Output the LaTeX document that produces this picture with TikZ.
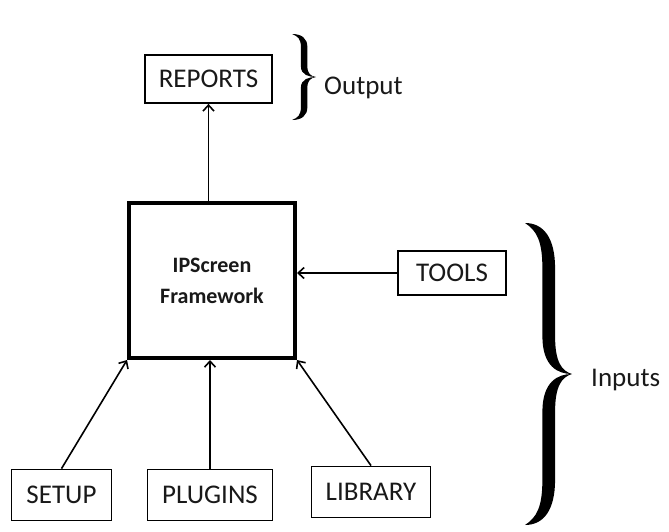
\documentclass[tikz,border=0pt]{standalone}
\usepackage{fontspec}
\setmainfont{Carlito}
\usepackage{tikz}
\usetikzlibrary{arrows.meta, positioning}

\tikzset{bigbrace/.pic={
    \fill (0,1) .. controls (0.4,1) and (0.64,0.9) .. (0.64,0.7) -- (0.64,0.25)
      .. controls (0.64,0.08) and (0.78,0.02) .. (1,0)
      .. controls (0.78,-0.02) and (0.64,-0.08) .. (0.64,-0.25) -- (0.64,-0.7)
      .. controls (0.64,-0.9) and (0.4,-1) .. (0,-1)
      .. controls (0.25,-0.95) and (0.37,-0.88) .. (0.37,-0.7) -- (0.37,-0.25)
      .. controls (0.37,-0.05) and (0.7,0) .. (1,0)
      .. controls (0.7,0) and (0.37,0.05) .. (0.37,0.25) -- (0.37,0.7)
      .. controls (0.37,0.88) and (0.25,0.95) .. (0,1) -- cycle;
}}

\begin{document}
\begin{tikzpicture}[x=1pt, y=-1pt,
    block/.style={draw, line width=1.8pt, fill=white, minimum height=48pt, inner sep=0pt, align=center, text=black!90, font=\fontsize{27}{31}\selectfont},
    arrow/.style={-{Straight Barb[length=6pt, width=11pt]}, line width=1.6pt},
    label/.style={text=black!90, font=\fontsize{27}{31}\selectfont, inner sep=0pt}]

    \useasboundingbox (0,0) rectangle (669,531);

    % Blocks
    \node[block, minimum width=127pt] (reports) at (208.5,79) {REPORTS};
    \node[block, line width=4pt, minimum width=166pt, minimum height=155pt, font=\fontsize{22}{31}\selectfont\bfseries] (main) at (212,280.5) {IPScreen\\Framework};
    \node[block, minimum width=108pt, minimum height=44pt] (tools) at (452,273) {TOOLS};
    \node[block, minimum width=100pt, minimum height=51pt] (setup) at (61.5,495) {SETUP};
    \node[block, minimum width=125pt, minimum height=51pt] (plugins) at (210,495) {PLUGINS};
    \node[block, minimum width=119pt, minimum height=51pt] (library) at (371,492) {LIBRARY};

    % Arrows
    \draw[arrow] (reports.south |- main.north) -- (reports.south);
    \draw[arrow] (tools.west) -- (main.east |- tools.west);
    \draw[arrow] (setup.north) -- (main.south west);
    \draw[arrow] (plugins.north) -- (plugins.north |- main.south);
    \draw[arrow] (library.north) -- (main.south east);

    % Braces
    \pic[xscale=24, yscale=43] at (292,77) {bigbrace};
    \node[label, anchor=west] (output) at (324,88) {Output};

    \pic[xscale=47, yscale=151] at (525,374) {bigbrace};
    \node[label, anchor=west] (inputs) at (591,380) {Inputs};
\end{tikzpicture}
\end{document}
